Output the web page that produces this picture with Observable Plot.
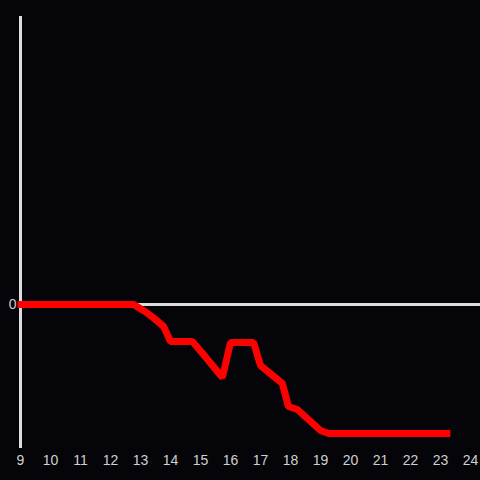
<!DOCTYPE html>
<html>
<head>
<meta charset="utf-8">
<script src="https://cdn.jsdelivr.net/npm/d3@7"></script>
<script src="https://cdn.jsdelivr.net/npm/@observablehq/plot@0.6"></script>
<style>
  html, body { margin: 0; padding: 0; background: #050408; }
  #chart svg { display: block; }
</style>
</head>
<body>
<div id="chart"></div>
<script>
const xs = [8.9, 12.77, 13.2, 13.5, 13.77, 14.0, 14.73, 15.07, 15.73, 16.0, 16.77, 17.0, 17.73, 17.93, 18.23, 19.0, 19.27, 23.33];
const ys = [0, 0, -0.8, -1.5, -2.2, -3.7, -3.7, -4.9, -7.3, -3.8, -3.8, -6.1, -7.9, -10.2, -10.5, -12.6, -12.9, -12.9];
const xTicks = [9, 10, 11, 12, 13, 14, 15, 16, 17, 18, 19, 20, 21, 22, 23, 24];
const yTicks = [0];

const data = xs.map((x, i) => ({x, y: ys[i]}));

const chart = Plot.plot({
  width: 480,
  height: 480,
  marginLeft: 20,
  marginRight: 0,
  marginTop: 16,
  marginBottom: 32,
  style: {background: "#050408", color: "#d0d0d0", fontSize: "14px", fontFamily: "'Liberation Sans', Arial, sans-serif"},
  x: {domain: [9, 24.333], ticks: xTicks, tickFormat: d => String(d), label: null},
  y: {domain: [-14.4, 28.8], ticks: yTicks, label: null},
  marks: [
    Plot.ruleY([0], {stroke: "#dddddd", strokeWidth: 3}),
    Plot.ruleX([9], {stroke: "#dddddd", strokeWidth: 3}),
    Plot.line(data, {x: "x", y: "y", stroke: "#ff0000", strokeWidth: 7, strokeLinejoin: "miter", strokeLinecap: "butt"}),
    Plot.axisX({ticks: xTicks, tickSize: 0, tickPadding: 7, tickFormat: d => String(d), label: null, fill: "#d0d0d0", fontSize: 14}),
    Plot.axisY({ticks: yTicks, tickSize: 0, tickPadding: 4, label: null, fill: "#d0d0d0", fontSize: 14})
  ]
});
document.getElementById("chart").appendChild(chart);
</script>
</body>
</html>
